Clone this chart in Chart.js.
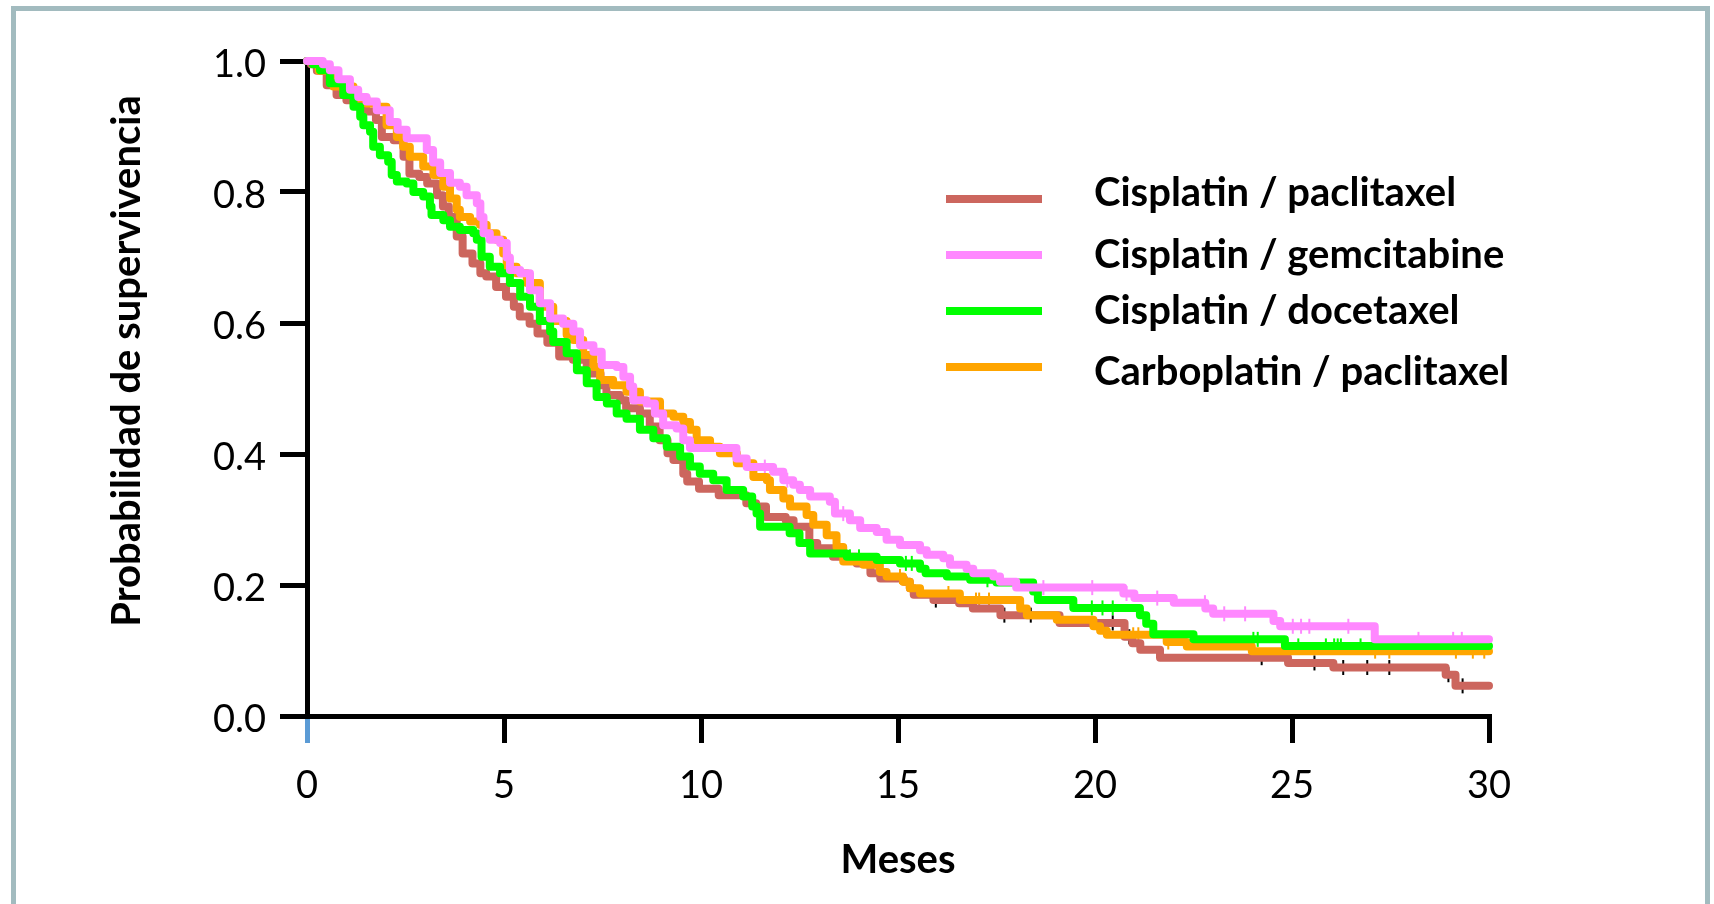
<!DOCTYPE html>
<html>
<head>
<meta charset="utf-8">
<script src="https://cdn.jsdelivr.net/npm/chart.js@4.4.1/dist/chart.umd.min.js"></script>
<style>
  html, body { margin: 0; padding: 0; background: #fff; overflow: hidden; }
  #wrap { position: relative; width: 1714px; height: 904px; }
  #frame { position: absolute; left: 11px; top: 6px; width: 1699px; height: 1000px; box-sizing: border-box; border: 5px solid #a2bbbf; pointer-events: none; }
  canvas { position: absolute; left: 0; top: 0; }
</style>
</head>
<body>
<div id="wrap">
  <canvas id="chart" width="1714" height="904"></canvas>
  <div id="frame"></div>
</div>
<script>
// Kaplan-Meier curves, values (months, survival after each drop)
const cpTime = [0, 0.1, 0.25, 0.5, 0.75, 1.0, 1.25, 1.5, 1.75, 1.9, 2.2, 2.45, 2.6, 2.85, 3.05, 3.3, 3.45, 3.6, 3.8, 3.95, 4.2, 4.4, 4.55, 4.8, 5.05, 5.25, 5.4, 5.65, 5.85, 6.1, 6.4, 6.75, 7.1, 7.45, 7.6, 7.95, 8.1, 8.45, 8.7, 8.95, 9.15, 9.3, 9.55, 9.65, 9.95, 10.45, 11.15, 11.4, 11.65, 12.15, 12.35, 12.75, 12.95, 13.35, 13.95, 14.3, 14.55, 15.15, 15.3, 15.4, 15.9, 16.55, 16.9, 17.6, 19.1, 20.75, 20.95, 21.15, 21.65, 24.9, 26.05, 28.9, 29.15, 30];
const cpSurv = [1.0, 0.995, 0.985, 0.963, 0.948, 0.94, 0.933, 0.923, 0.91, 0.884, 0.879, 0.854, 0.828, 0.823, 0.813, 0.795, 0.778, 0.762, 0.732, 0.706, 0.691, 0.676, 0.671, 0.655, 0.64, 0.625, 0.61, 0.599, 0.584, 0.57, 0.549, 0.544, 0.523, 0.505, 0.49, 0.482, 0.47, 0.462, 0.442, 0.421, 0.401, 0.391, 0.37, 0.358, 0.347, 0.337, 0.325, 0.32, 0.304, 0.299, 0.289, 0.264, 0.256, 0.243, 0.233, 0.218, 0.21, 0.205, 0.195, 0.185, 0.177, 0.172, 0.164, 0.154, 0.142, 0.121, 0.111, 0.101, 0.089, 0.081, 0.074, 0.063, 0.046, 0.046];
const cpCensor = [15.96, 17.7, 18.37, 20.45, 20.87, 24.23, 25.57, 26.3, 26.91, 27.47, 28.97, 29.33];

const cgTime = [0, 0.4, 0.58, 0.8, 1.09, 1.3, 1.51, 1.77, 2.1, 2.3, 2.53, 3.04, 3.2, 3.38, 3.63, 3.88, 4.05, 4.31, 4.4, 4.48, 4.64, 4.9, 5.07, 5.15, 5.41, 5.66, 5.91, 6.17, 6.5, 6.76, 6.93, 7.27, 7.48, 7.86, 8.03, 8.2, 8.28, 8.62, 8.83, 9.04, 9.38, 9.55, 9.72, 10.9, 11.16, 11.83, 12.09, 12.34, 12.51, 12.77, 13.27, 13.4, 13.78, 14.04, 14.46, 14.71, 15.05, 15.56, 15.73, 16.15, 16.32, 16.74, 16.91, 17.42, 17.59, 18.0, 20.72, 21.0, 22.0, 22.8, 23.0, 24.53, 24.7, 27.1, 30];
const cgSurv = [1.0, 0.995, 0.986, 0.972, 0.956, 0.945, 0.938, 0.925, 0.907, 0.895, 0.882, 0.864, 0.845, 0.829, 0.814, 0.808, 0.795, 0.783, 0.762, 0.737, 0.727, 0.722, 0.7, 0.681, 0.676, 0.65, 0.63, 0.607, 0.599, 0.587, 0.566, 0.556, 0.536, 0.533, 0.518, 0.503, 0.482, 0.477, 0.462, 0.444, 0.439, 0.421, 0.409, 0.393, 0.38, 0.373, 0.36, 0.353, 0.345, 0.335, 0.327, 0.309, 0.299, 0.287, 0.281, 0.269, 0.261, 0.253, 0.246, 0.241, 0.231, 0.225, 0.218, 0.213, 0.205, 0.196, 0.187, 0.18, 0.173, 0.164, 0.156, 0.145, 0.137, 0.117, 0.117];
const cgCensor = [11.62, 12.19, 13.61, 18.69, 19.93, 20.8, 21.58, 22.79, 23.28, 23.81, 25.02, 25.23, 25.44, 26.43, 28.21, 29.09, 29.31];

const cdTime = [0, 0.15, 0.33, 0.58, 0.92, 1.18, 1.35, 1.43, 1.6, 1.68, 1.85, 2.06, 2.15, 2.28, 2.53, 2.7, 2.95, 3.12, 3.16, 3.46, 3.63, 3.88, 4.22, 4.31, 4.43, 4.64, 4.9, 5.15, 5.41, 5.66, 5.91, 6.17, 6.25, 6.59, 6.85, 7.1, 7.35, 7.61, 7.86, 8.11, 8.45, 8.79, 9.13, 9.47, 9.72, 9.97, 10.31, 10.65, 11.07, 11.3, 11.41, 11.5, 12.25, 12.5, 12.77, 13.7, 14.46, 15.05, 15.56, 15.7, 16.24, 16.83, 17.5, 18.43, 18.55, 19.45, 21.14, 21.3, 21.48, 22.5, 24.82, 30];
const cdSurv = [1.0, 0.995, 0.986, 0.966, 0.948, 0.93, 0.915, 0.902, 0.892, 0.869, 0.856, 0.846, 0.826, 0.816, 0.813, 0.8, 0.793, 0.778, 0.765, 0.757, 0.747, 0.742, 0.737, 0.727, 0.701, 0.686, 0.676, 0.661, 0.64, 0.625, 0.603, 0.587, 0.571, 0.554, 0.528, 0.508, 0.487, 0.477, 0.462, 0.454, 0.437, 0.424, 0.411, 0.396, 0.381, 0.37, 0.36, 0.345, 0.335, 0.32, 0.309, 0.289, 0.279, 0.264, 0.248, 0.243, 0.238, 0.233, 0.225, 0.218, 0.213, 0.208, 0.204, 0.19, 0.177, 0.165, 0.154, 0.141, 0.125, 0.117, 0.107, 0.107];
const cdCensor = [13.78, 14.01, 15.2, 15.35, 17.27, 18.52, 19.92, 20.19, 20.45, 24.02, 24.13, 25.16, 25.86, 26.07, 26.16, 26.24, 26.74];

const kpTime = [0, 0.3, 0.67, 1.18, 1.51, 1.77, 2.02, 2.28, 2.44, 2.61, 2.95, 3.21, 3.46, 3.63, 3.8, 3.88, 4.14, 4.39, 4.56, 4.81, 4.98, 5.07, 5.32, 5.58, 5.91, 6.25, 6.59, 6.76, 7.01, 7.27, 7.44, 7.77, 8.11, 8.45, 8.96, 9.3, 9.55, 9.72, 9.89, 10.23, 10.48, 10.91, 11.33, 11.67, 11.75, 12.09, 12.26, 12.68, 12.85, 13.19, 13.44, 13.61, 14.12, 14.54, 14.71, 15.13, 15.3, 15.56, 16.57, 18.1, 18.27, 19.03, 19.96, 20.13, 20.3, 21.82, 22.33, 23.98, 30];
const kpSurv = [1.0, 0.985, 0.961, 0.943, 0.935, 0.93, 0.902, 0.884, 0.869, 0.854, 0.839, 0.826, 0.808, 0.79, 0.773, 0.762, 0.755, 0.75, 0.737, 0.727, 0.706, 0.686, 0.676, 0.661, 0.625, 0.603, 0.582, 0.574, 0.551, 0.533, 0.513, 0.505, 0.495, 0.48, 0.462, 0.457, 0.449, 0.437, 0.421, 0.411, 0.401, 0.386, 0.365, 0.36, 0.345, 0.332, 0.32, 0.307, 0.292, 0.276, 0.258, 0.236, 0.231, 0.22, 0.213, 0.205, 0.195, 0.187, 0.177, 0.164, 0.154, 0.147, 0.137, 0.13, 0.124, 0.113, 0.106, 0.099, 0.099];
const kpCensor = [15.05, 16.28, 16.98, 17.06, 17.31, 20.97, 21.1, 21.86, 27.11, 27.47, 29.16, 29.59, 29.88];

const labels = ['Cisplatin / paclitaxel', 'Cisplatin / gemcitabine', 'Cisplatin / docetaxel', 'Carboplatin / paclitaxel'];
const xTitle = 'Meses';
const yTitle = 'Probabilidad de supervivencia';

const lineColors = ['#cc665e', '#ff88ff', '#00ff00', '#ffa500'];
const censorColors = ['#000000', '#ff88ff', '#00ff00', '#ffa500'];
const drawOrder = [3, 0, 1, 2];   // pink on top, red at the bottom
const fontFamily = 'Lato, "Open Sans", sans-serif';
// legend layout (pixels)
const legendLineY = [199, 255, 311, 367];
const legendTextBase = [206, 268, 324, 385];

const times = [cpTime, cgTime, cdTime, kpTime];
const survs = [cpSurv, cgSurv, cdSurv, kpSurv];
const censors = [cpCensor, cgCensor, cdCensor, kpCensor];

// survival value of a step curve at time t
function survAt(time, surv, t) {
  let s = surv[0];
  for (let i = 0; i < time.length; i++) {
    if (time[i] <= t) s = surv[i];
  }
  return s;
}

var datasets = [];
labels.forEach(function (name, k) {
  datasets.push({
    label: name,
    data: times[k].map((t, i) => ({ x: t, y: survs[k][i] })),
    borderColor: lineColors[k],
    backgroundColor: lineColors[k],
    borderWidth: 8,
    stepped: 'before',
    pointRadius: 0,
    fill: false,
    borderJoinStyle: 'round',
    borderCapStyle: 'round',
    clip: false,
    order: drawOrder[k],
  });
});
labels.forEach(function (name, k) {
  datasets.push({
    type: 'scatter',
    label: '',
    data: censors[k].map(t => ({ x: t, y: survAt(times[k], survs[k], t) })),
    showLine: false,
    pointStyle: 'line',
    rotation: 90,
    pointRadius: 7.5,
    borderWidth: 2,
    borderColor: censorColors[k],
    clip: false,
    order: 10 + k,
  });
});

// legend in the plot area and the rotated y title
const overlay = {
  id: 'overlay',
  afterDraw(chart) {
    const ctx = chart.ctx;
    ctx.save();
    ctx.fillStyle = '#000';
    ctx.font = 'bold 40px ' + fontFamily;
    ctx.textAlign = 'center';
    ctx.textBaseline = 'middle';
    ctx.translate(127, 361);
    ctx.rotate(-Math.PI / 2);
    ctx.fillText(yTitle, 0, 0);
    ctx.restore();

    ctx.save();
    labels.forEach(function (name, k) {
      ctx.fillStyle = lineColors[k];
      ctx.fillRect(946, legendLineY[k] - 4, 96, 8);
      ctx.fillStyle = '#000';
      ctx.font = 'bold 40px ' + fontFamily;
      ctx.textAlign = 'left';
      ctx.textBaseline = 'alphabetic';
      ctx.fillText(name, 1094, legendTextBase[k]);
    });
    ctx.restore();
  }
};

var ctx = document.getElementById('chart');
var chart = new Chart(ctx, {
  type: 'line',
  data: { datasets: datasets },
  plugins: [overlay],
  options: {
    responsive: false,
    animation: false,
    devicePixelRatio: 1,
    events: [],
    layout: { padding: { left: 0, top: 61, right: 225, bottom: 0 } },
    plugins: {
      legend: { display: false },
      tooltip: { enabled: false },
    },
    scales: {
      x: {
        type: 'linear',
        min: 0,
        max: 30,
        ticks: { stepSize: 5, color: '#000', padding: 20, maxRotation: 0, font: { family: fontFamily, size: 38 } },
        grid: {
          drawOnChartArea: false,
          tickLength: 27,
          lineWidth: 5,
          color: c => (c.tick && c.tick.value === 0 ? '#5b9bd5' : '#000'),
        },
        border: { color: '#000', width: 5 },
        title: { display: true, text: xTitle, color: '#000', padding: { top: 0, bottom: 20 }, font: { family: fontFamily, size: 40, weight: 'bold' } },
        afterFit: s => { s.height = 188; },
      },
      y: {
        type: 'linear',
        min: 0,
        max: 1,
        ticks: { stepSize: 0.2, color: '#000', padding: 14, labelOffset: 4, font: { family: fontFamily, size: 38 }, callback: v => v.toFixed(1) },
        grid: { drawOnChartArea: false, tickLength: 27, lineWidth: 5, color: '#000' },
        border: { color: '#000', width: 5 },
        afterFit: s => { s.width = 307; },
      },
    },
  },
});
</script>
</body>
</html>
